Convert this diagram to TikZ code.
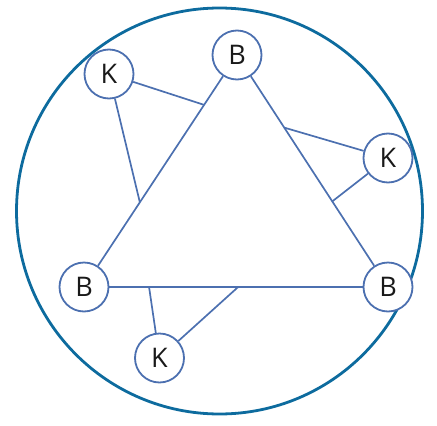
\documentclass[tikz,border=0pt]{standalone}
\usepackage{fontspec}
\setmainfont{Open Sans}
\usetikzlibrary{calc}
\definecolor{edgeblue}{rgb}{0.30,0.44,0.69}
\definecolor{ringblue}{rgb}{0.05,0.42,0.62}
\definecolor{inkdark}{rgb}{0.1,0.1,0.1}
\begin{document}
\begin{tikzpicture}[x=1pt,y=-1pt,
  vert/.style={circle,draw=edgeblue,line width=1.8pt,fill=white,minimum size=49pt,inner sep=0pt,text=inkdark,font=\fontsize{27}{27}\selectfont},
  link/.style={draw=edgeblue,line width=1.7pt}]
\useasboundingbox (0,0) rectangle (437,426);
\draw[ringblue,line width=2.8pt] (219.5,211) circle[radius=203];
\node[vert] (bt) at (237,55) {B};
\node[vert] (bl) at (84,287) {B};
\node[vert] (br) at (388,287) {B};
\node[vert] (kt) at (109,74) {K};
\node[vert] (kr) at (388,158) {K};
\node[vert] (kb) at (159.5,358) {K};
\draw[link] (bt) -- (bl);
\draw[link] (bt) -- (br);
\draw[link] (bl) -- (br);
\coordinate (p1) at ($(bt.center)!0.215!(bl.center)$);
\coordinate (p2) at ($(bt.center)!0.635!(bl.center)$);
\coordinate (p3) at ($(bt.center)!0.313!(br.center)$);
\coordinate (p4) at ($(bt.center)!0.631!(br.center)$);
\coordinate (p5) at ($(bl.center)!0.214!(br.center)$);
\coordinate (p6) at ($(bl.center)!0.507!(br.center)$);
\draw[link] (kt) -- (p1);
\draw[link] (kt) -- (p2);
\draw[link] (kr) -- (p3);
\draw[link] (kr) -- (p4);
\draw[link] (kb) -- (p5);
\draw[link] (kb) -- (p6);
\end{tikzpicture}
\end{document}
